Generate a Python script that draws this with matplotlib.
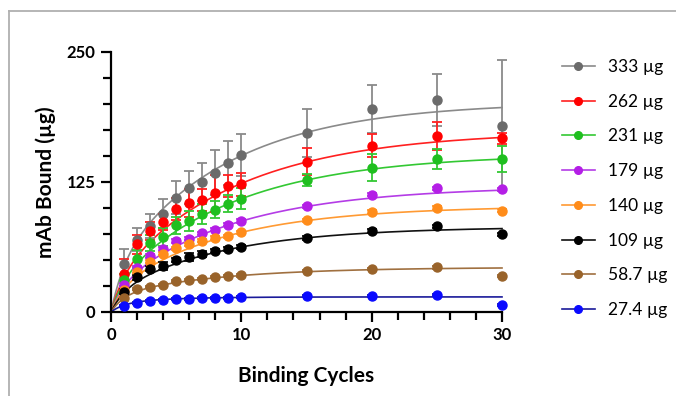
import numpy as np
import matplotlib
matplotlib.use("Agg")
import matplotlib.pyplot as plt
from matplotlib.lines import Line2D
from matplotlib.ticker import MultipleLocator

plt.rcParams['font.family'] = ['Lato', 'DejaVu Sans']

# binding cycles
cycles = [1, 2, 3, 4, 5, 6, 7, 8, 9, 10, 15, 20, 25, 30]

labels = ['333 µg', '262 µg', '231 µg', '179 µg', '140 µg', '109 µg', '58.7 µg', '27.4 µg']
colors = ['#6b6b6b', '#ff0000', '#1fbf1f', '#b41ee6', '#ff8c1a', '#000000', '#99632a', '#0a0aff']
line_colors = ['#8a8a8a', '#ff2020', '#33c833', '#b43ce6', '#ff9a33', '#111111', '#a07040', '#1a1a9a']

# mean mAb bound (µg)
y333 = [46.6, 69.6, 82.7, 94.5, 109.8, 119.7, 124.8, 134.1, 143.4, 150.7, 172.4, 194.8, 203.7, 179.1]
y262 = [36.1, 65.1, 77.9, 86.5, 98.7, 104.4, 107.9, 114.0, 121.3, 122.6, 144.6, 159.7, 168.9, 167.0]
y231 = [30.7, 51.4, 66.4, 72.2, 83.3, 87.5, 94.2, 98.3, 104.1, 108.9, 127.1, 138.9, 147.2, 146.9]
y179 = [25.9, 42.5, 54.0, 60.3, 68.0, 70.6, 75.7, 79.2, 84.0, 87.5, 101.5, 112.7, 118.8, 117.8]
y140 = [21.0, 38.6, 48.2, 55.9, 61.3, 65.1, 68.6, 71.2, 72.8, 76.6, 88.1, 96.1, 100.0, 97.4]
y109 = [19.5, 33.5, 41.8, 44.1, 49.8, 52.7, 55.9, 58.4, 60.3, 62.6, 71.2, 77.9, 82.4, 74.7]
y58 = [13.7, 22.0, 23.9, 26.2, 30.0, 31.0, 31.9, 33.5, 34.2, 35.1, 39.3, 41.5, 42.8, 34.8]
y27 = [6.1, 8.9, 10.5, 11.8, 12.5, 12.8, 13.4, 13.7, 13.7, 14.0, 15.3, 15.3, 16.0, 6.7]

# error (SD)
e333 = [14, 11, 11.5, 14, 16, 15.6, 18, 21.7, 21, 20, 23, 23, 25, 63]
e262 = [14.7, 9.3, 8.6, 8, 10.5, 13.4, 10.5, 18, 10.5, 11, 13, 11, 13.4, 5]
e231 = [6, 8, 8, 9, 8, 10, 10, 8, 8, 10, 6, 13, 10, 12.5]
e179 = [2, 2, 2, 2, 2, 1.5, 1.5, 1.5, 1.5, 1.5, 1.5, 1.5, 1.5, 1.5]
e140 = [1.5, 1.5, 1.5, 1.5, 1.5, 1.5, 1.5, 1.5, 1.5, 1.5, 1.5, 1.5, 1.5, 1.5]
e109 = [2.5, 2.5, 2, 4, 2, 4, 3, 2, 2, 2, 1.5, 1.5, 1.5, 1.5]
e58 = [1, 1, 1, 1, 1, 1, 1, 1, 1, 1, 1, 1, 1, 1]
e27 = [1, 1, 1, 1, 1, 1, 1, 1, 1, 1, 1, 1, 1, 1]

means = [y333, y262, y231, y179, y140, y109, y58, y27]
errors = [e333, e262, e231, e179, e140, e109, e58, e27]

# two-phase association fit: fast amplitude, slow amplitude, slow rate (fast rate = 1)
fast_amp = [42, 30, 25, 22, 20, 18, 16, 8]
slow_amp = [160, 144, 127, 99, 82, 64, 27, 6.5]
slow_k = [0.113, 0.105, 0.108, 0.108, 0.117, 0.119, 0.123, 0.256]

fig = plt.figure(figsize=(6.76, 3.96), dpi=100)
ax = fig.add_axes([111 / 676, 84 / 396, 391 / 676, 260 / 396])

xs = np.linspace(0, 30, 300)
handles = []
for i in reversed(range(len(labels))):
    fit = fast_amp[i] * (1 - np.exp(-xs)) + slow_amp[i] * (1 - np.exp(-slow_k[i] * xs))
    ax.plot(xs, fit, color=line_colors[i], lw=1.2, zorder=2 + i * 0.01, clip_on=False)
    ax.errorbar(cycles, means[i], yerr=errors[i], fmt='o', color=colors[i], ms=6.5,
                ecolor=line_colors[i], elinewidth=1.3, capsize=3.5, capthick=1.3,
                clip_on=False, zorder=3 + i * 0.01)
for i in range(len(labels)):
    handles.append(Line2D([0], [0], color=line_colors[i], lw=1.2, marker='o',
                          markerfacecolor=colors[i], markeredgecolor=colors[i], ms=5.5))

ax.set_xlim(0, 30)
ax.set_ylim(0, 250)
ax.xaxis.set_major_locator(MultipleLocator(10))
ax.xaxis.set_minor_locator(MultipleLocator(2))
ax.yaxis.set_major_locator(MultipleLocator(125))
ax.yaxis.set_minor_locator(MultipleLocator(25))
ax.spines['top'].set_visible(False)
ax.spines['right'].set_visible(False)
for s in ['left', 'bottom']:
    ax.spines[s].set_linewidth(1.6)
ax.tick_params(which='major', length=7, width=1.6, labelsize=12, pad=4)
ax.tick_params(which='minor', length=6, width=1.6)
for lab in ax.get_xticklabels() + ax.get_yticklabels():
    lab.set_fontweight('bold')

ax.set_xlabel('Binding Cycles', fontsize=15, fontweight='bold', labelpad=16)
ax.set_ylabel('mAb Bound (µg)', fontsize=15, fontweight='bold', labelpad=8)

fig.legend(handles, labels, loc='upper left', bbox_to_anchor=(555 / 676, 1 - 52 / 396),
           frameon=False, fontsize=12.5, handlelength=1.9, handletextpad=0.75,
           labelspacing=1.08, borderaxespad=0)

# frame lines of the original screenshot
fig.add_artist(Line2D([9 / 676, 9 / 676], [0, 1 - 11 / 396], color='#b0b0b0', lw=1.3))
fig.add_artist(Line2D([9 / 676, 1], [1 - 11 / 396, 1 - 11 / 396], color='#b0b0b0', lw=1.3))

fig.savefig('out.png', dpi=100)
